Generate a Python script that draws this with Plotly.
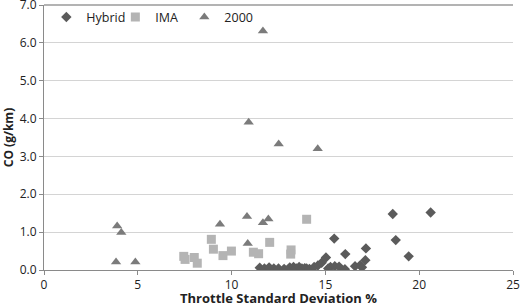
import plotly.graph_objects as go

hybrid_x = [11.5, 11.75, 12.0, 12.25, 12.5, 12.8, 13.1, 13.3, 13.45, 13.6, 13.75, 13.9, 14.0, 14.15,
            14.4, 14.6, 14.8, 15.03, 15.15, 15.27, 15.47, 15.5, 15.73, 16.04, 16.06, 16.58, 16.86,
            16.95, 17.13, 17.16, 18.59, 18.75, 19.44, 20.61]
hybrid_y = [0.06, 0.04, 0.07, 0.04, 0.04, 0.03, 0.07, 0.08, 0.04, 0.08, 0.04, 0.05, 0.04, 0.03,
            0.08, 0.12, 0.19, 0.33, 0.04, 0.08, 0.83, 0.10, 0.09, 0.02, 0.42, 0.10, 0.13,
            0.07, 0.26, 0.57, 1.48, 0.79, 0.36, 1.52]

ima_x = [7.45, 7.52, 8.01, 8.17, 8.92, 9.03, 9.54, 9.99, 11.16, 11.44, 12.03, 13.17, 13.15, 14.0]
ima_y = [0.36, 0.28, 0.33, 0.18, 0.81, 0.55, 0.38, 0.50, 0.47, 0.43, 0.73, 0.53, 0.42, 1.34]

y2000_x = [3.84, 3.9, 4.12, 4.87, 9.38, 10.82, 10.86, 10.91, 11.67, 11.67, 11.96, 12.51, 14.59]
y2000_y = [0.21, 1.16, 0.99, 0.21, 1.21, 1.41, 0.70, 3.90, 1.25, 6.31, 1.35, 3.33, 3.20]

x_ticks = [0, 5, 10, 15, 20, 25]
y_ticks = [0, 1, 2, 3, 4, 5, 6, 7]

FONT = "Open Sans"

fig = go.Figure()
fig.add_trace(go.Scatter(x=hybrid_x, y=hybrid_y, mode="markers", name="Hybrid",
                         marker=dict(symbol="diamond", size=8, color="#5b5b5b")))
fig.add_trace(go.Scatter(x=ima_x, y=ima_y, mode="markers", name="IMA",
                         marker=dict(symbol="square", size=9, color="#b4b4b4")))
fig.add_trace(go.Scatter(x=y2000_x, y=y2000_y, mode="markers", name="2000",
                         marker=dict(symbol="triangle-up", size=9, color="#7b7b7b")))

fig.update_layout(
    width=520, height=307,
    margin=dict(l=44, r=7, t=5, b=37, autoexpand=False),
    paper_bgcolor="white", plot_bgcolor="white",
    font=dict(family=FONT, size=12, color="#222"),
    showlegend=True,
    legend=dict(orientation="h", x=0.005, y=1.01, xanchor="left", yanchor="top",
                bgcolor="rgba(0,0,0,0)", font=dict(size=12.5, color="#222"),
                itemwidth=30, tracegroupgap=0, entrywidth=24, entrywidthmode="pixels"),
    shapes=[dict(type="line", xref="paper", yref="paper", x0=0, x1=1, y0=1, y1=1,
                 layer="above", line=dict(color="#9a9a9a", width=1.5))],
)
fig.update_xaxes(range=[0, 25], tickvals=x_ticks, ticktext=[str(v) for v in x_ticks],
                 automargin=False, ticklabeloverflow="allow",
                 showgrid=False, zeroline=False, showline=True, linecolor="#8a8a8a",
                 linewidth=1, ticks="outside", ticklen=4, tickcolor="#8a8a8a",
                 tickfont=dict(size=12),
                 title=dict(text="<b>Throttle Standard Deviation %</b>", font=dict(size=13), standoff=4))
fig.update_yaxes(range=[0, 7], tickvals=y_ticks, tickformat=".1f",
                 automargin=False, ticklabeloverflow="allow",
                 showgrid=True, gridcolor="#d4d4d4", gridwidth=1, zeroline=False,
                 showline=True, linecolor="#8a8a8a", linewidth=1,
                 ticks="outside", ticklen=4, tickcolor="#8a8a8a", tickfont=dict(size=12),
                 title=dict(text="<b>CO (g/km)</b>", font=dict(size=12), standoff=4))

fig.write_html("out.html", config={"displayModeBar": False},
               post_script="document.body.style.margin='0';document.body.style.overflow='hidden';")
